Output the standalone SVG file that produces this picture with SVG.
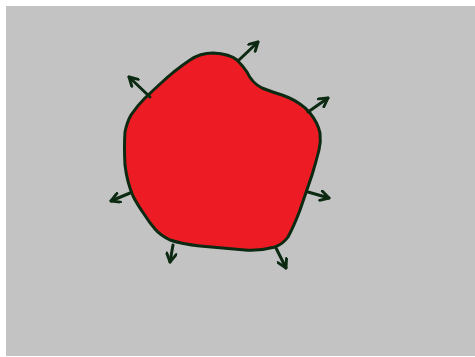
<svg xmlns="http://www.w3.org/2000/svg" width="475" height="357" viewBox="0 0 475 357">
<style>
.bg{fill:#c3c3c3}
.blob{fill:#ed1c24;stroke:#0c2a12;stroke-width:3;stroke-linejoin:round}
.arr{fill:none;stroke:#0c2a12;stroke-width:3;stroke-linecap:round;marker-end:url(#head)}
</style>
<defs>
<marker id="head" viewBox="0 0 10 10" refX="8.5" refY="5" markerWidth="12" markerHeight="12" markerUnits="userSpaceOnUse" orient="auto">
<path d="M1.5,1 L8.5,5 L1.5,9" fill="none" stroke="#0c2a12" stroke-width="2.4" stroke-linecap="round" stroke-linejoin="round"/>
</marker>
</defs>
<rect x="0" y="0" width="475" height="357" fill="#ffffff"/>
<rect class="bg" x="6" y="6" width="469" height="350"/>
<g id="cell">
<path class="blob" d="M190,60 Q200,53 213,53 Q230,54 237,60 Q243,66 247,72 Q252,83 262,88 Q275,93 282,95 Q293,99 300,104 Q306,108 310,113 Q318,123 320,133 Q321,142 319,150 Q316,162 312,175 L300,210 Q294,226 288,237 Q283,244 275,247 Q260,251 245,250 L200,246 Q182,244 170,240 Q160,235 155,229 Q149,222 144,214 Q137,204 133,196 Q127,182 125,165 Q124,147 125,132 Q127,122 131,115 Q137,106 145,98 L160,84 Q175,70 190,60 Z"/>
</g>
<g id="connectors">
<line class="arr" x1="239" y1="60" x2="258" y2="42"/>
<line class="arr" x1="150" y1="97" x2="129" y2="77"/>
<line class="arr" x1="308" y1="112" x2="328" y2="98"/>
<line class="arr" x1="308" y1="192" x2="329" y2="198"/>
<line class="arr" x1="130" y1="193" x2="111" y2="201"/>
<line class="arr" x1="173" y1="245" x2="170" y2="262"/>
<line class="arr" x1="276" y1="248" x2="286" y2="268"/>
</g>
</svg>
